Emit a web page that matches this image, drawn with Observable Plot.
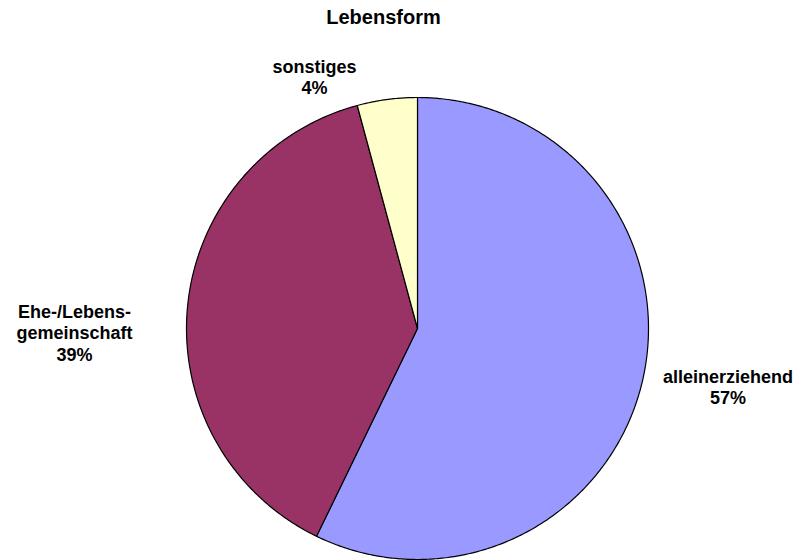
<!DOCTYPE html>
<html>
<head>
<meta charset="utf-8">
<script src="https://cdn.jsdelivr.net/npm/d3@7"></script>
<script src="https://cdn.jsdelivr.net/npm/@observablehq/plot@0.6"></script>
<style>
  body { margin: 0; background: #fff; }
  #chart svg { display: block; }
</style>
</head>
<body>
<div id="chart"></div>
<script>
// ---- data ----
const title = "Lebensform";
const categories = ["alleinerziehend", "Ehe-/Lebens-\ngemeinschaft", "sonstiges"];
const values = [57.2, 38.6, 4.2];
const percentLabels = ["57%", "39%", "4%"];
const colors = ["#9999FF", "#993366", "#FFFFCC"];

// ---- layout (not data) ----
const W = 798, H = 560;
const cx = 417, cy = 328, R = 231;
// label anchor positions in units of radius, relative to pie centre (y up)
const labelAnchors = [[1.344, -0.251], [-1.485, -0.017], [-0.446, 1.091]];

const pie = d3.pie().sort(null).startAngle(0).endAngle(2 * Math.PI)(values);

const slicePts = [];
pie.forEach((p, i) => {
  const name = categories[i];
  slicePts.push({name, x: 0, y: 0});
  const n = Math.max(2, Math.ceil((p.endAngle - p.startAngle) / (Math.PI / 360)));
  for (let k = 0; k <= n; k++) {
    const a = p.startAngle + (p.endAngle - p.startAngle) * k / n;
    slicePts.push({name, x: Math.sin(a), y: Math.cos(a)});
  }
  slicePts.push({name, x: 0, y: 0});
});

const labels = categories.map((c, i) => ({
  text: c + "\n" + percentLabels[i],
  x: labelAnchors[i][0],
  y: labelAnchors[i][1]
}));

const font = "'Liberation Sans', Arial, Helvetica, sans-serif";

const chart = Plot.plot({
  width: W,
  height: H,
  margin: 0,
  style: {fontFamily: font, background: "#fff"},
  x: {domain: [-cx / R, (W - cx) / R], range: [0, W], axis: null},
  y: {domain: [-(H - cy) / R, cy / R], range: [H, 0], axis: null},
  color: {domain: categories, range: colors},
  marks: [
    Plot.line(slicePts, {x: "x", y: "y", z: "name", fill: "name", stroke: "#000", strokeWidth: 1.2, curve: "linear"}),
    Plot.text(labels, {x: "x", y: "y", text: "text", fontSize: 18, fontWeight: "bold", fill: "#000", lineHeight: 1.22, textAnchor: "middle", lineAnchor: "middle"}),
    Plot.text([title], {frameAnchor: "top", dx: -16, dy: 9, fontSize: 20, fontWeight: "bold", fill: "#000", lineAnchor: "top"})
  ]
});
document.getElementById("chart").appendChild(chart);
</script>
</body>
</html>
